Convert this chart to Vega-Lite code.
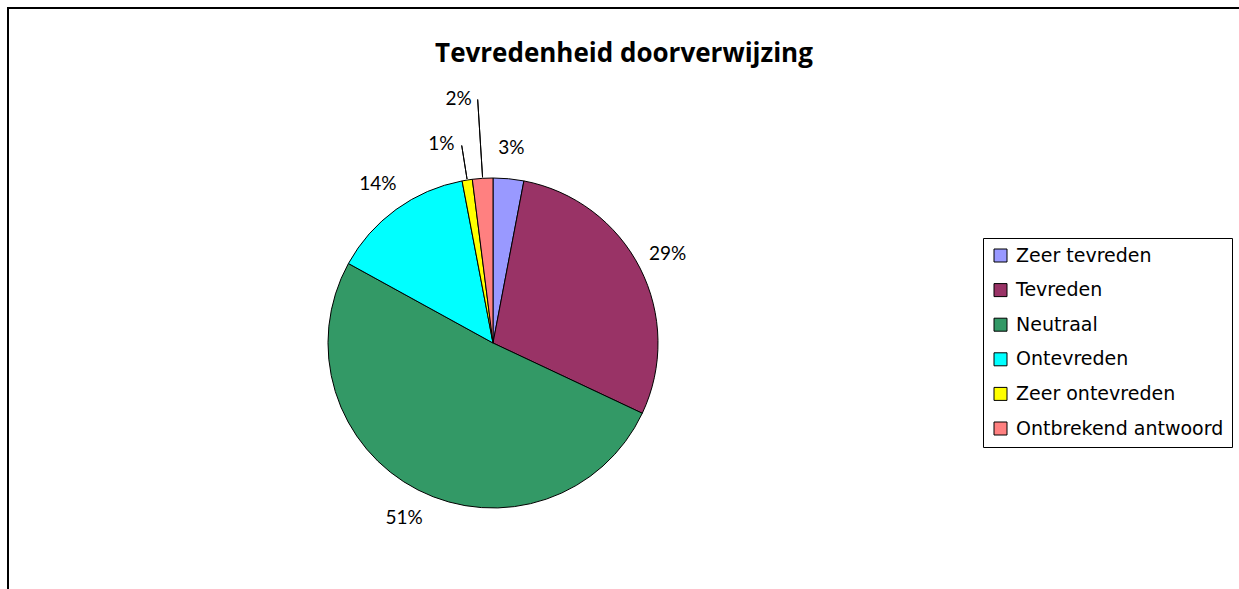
{
  "$schema": "https://vega.github.io/schema/vega-lite/v6.json",
  "width": 1232,
  "height": 670,
  "autosize": "none",
  "padding": {"left": 8, "top": 8, "right": 0, "bottom": 0},
  "background": "white",
  "view": {"stroke": "#000", "strokeWidth": 2},
  "config": {
    "view": {"stroke": "#000", "strokeWidth": 2},
    "legend": {"labelFont": "DejaVu Sans"}
  },
  "title": {
    "text": "Tevredenheid doorverwijzing",
    "font": "Open Sans",
    "fontSize": 26,
    "fontWeight": "bold",
    "color": "#000",
    "anchor": "middle",
    "baseline": "alphabetic",
    "offset": -54,
    "dy": 26
  },
  "data": {
    "values": [
      {"idx": 1, "cat": "Zeer tevreden", "share": 0.03},
      {"idx": 2, "cat": "Tevreden", "share": 0.29},
      {"idx": 3, "cat": "Neutraal", "share": 0.51},
      {"idx": 4, "cat": "Ontevreden", "share": 0.14},
      {"idx": 5, "cat": "Zeer ontevreden", "share": 0.01},
      {"idx": 6, "cat": "Ontbrekend antwoord", "share": 0.02}
    ]
  },
  "encoding": {
    "theta": {"field": "share", "type": "quantitative", "stack": true},
    "order": {"field": "idx", "type": "quantitative"}
  },
  "layer": [
    {
      "mark": {"type": "arc", "radius": 165, "stroke": "#000", "strokeWidth": 1, "xOffset": -131},
      "encoding": {
        "color": {
          "field": "cat",
          "type": "nominal",
          "scale": {
            "domain": ["Zeer tevreden", "Tevreden", "Neutraal", "Ontevreden", "Zeer ontevreden", "Ontbrekend antwoord"],
            "range": ["#9999FF", "#993366", "#339966", "#00FFFF", "#FFFF00", "#FF8080"]
          },
          "legend": {
            "title": null,
            "orient": "none",
            "legendX": 975,
            "legendY": 230,
            "strokeColor": "#000",
            "fillColor": "white",
            "padding": 8,
            "symbolType": "square",
            "symbolSize": 169,
            "symbolStrokeColor": "#000",
            "symbolStrokeWidth": 1,
            "symbolOpacity": 1,
            "labelFont": "DejaVu Sans",
            "labelFontSize": 19,
            "labelColor": "#000",
            "labelOffset": 6,
            "labelLimit": 400,
            "rowPadding": 14.6
          }
        }
      }
    },
    {
      "mark": {"type": "text", "radius": 196, "font": "Lato", "fontSize": 19, "color": "#000", "baseline": "middle", "align": "center", "xOffset": -131},
      "encoding": {
        "text": {
          "condition": {"test": "datum.cat !== 'Zeer ontevreden' && datum.cat !== 'Ontbrekend antwoord'", "field": "share", "type": "quantitative", "format": ".0%"},
          "value": ""
        }
      }
    },
    {
      "mark": {"type": "text", "radius": 201, "font": "Lato", "fontSize": 19, "color": "#000", "baseline": "middle", "align": "right", "dx": -7, "xOffset": -131},
      "encoding": {
        "text": {
          "condition": {"test": "datum.cat === 'Zeer ontevreden'", "field": "share", "type": "quantitative", "format": ".0%"},
          "value": ""
        }
      }
    },
    {
      "mark": {"type": "text", "radius": 244, "font": "Lato", "fontSize": 19, "color": "#000", "baseline": "middle", "align": "right", "dx": -6, "xOffset": -131},
      "encoding": {
        "text": {
          "condition": {"test": "datum.cat === 'Ontbrekend antwoord'", "field": "share", "type": "quantitative", "format": ".0%"},
          "value": ""
        }
      }
    },
    {
      "mark": {"type": "arc", "radius": 200, "radius2": 166, "padAngle": 3, "fill": null, "stroke": "#000", "strokeWidth": 1, "xOffset": -131},
      "encoding": {
        "strokeOpacity": {"condition": {"test": "datum.cat === 'Zeer ontevreden'", "value": 1}, "value": 0}
      }
    },
    {
      "mark": {"type": "arc", "radius": 244, "radius2": 166, "padAngle": 3, "fill": null, "stroke": "#000", "strokeWidth": 1, "xOffset": -131},
      "encoding": {
        "strokeOpacity": {"condition": {"test": "datum.cat === 'Ontbrekend antwoord'", "value": 1}, "value": 0}
      }
    }
  ]
}
